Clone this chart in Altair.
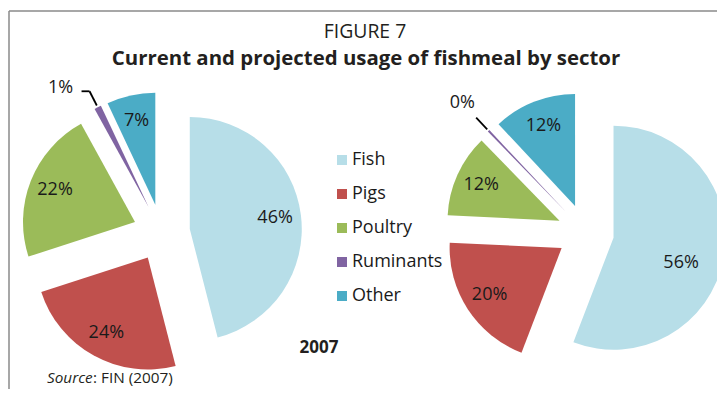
import altair as alt
import pandas as pd

# ---------------- data ----------------
sectors = ["Fish", "Pigs", "Poultry", "Ruminants", "Other"]
pies = ["2007", "Projected"]
share_2007 = [46, 24, 22, 1, 7]
share_projected = [56, 20, 12, 0.3, 12]
colors = ["#B7DEE8", "#C0504D", "#9BBB59", "#8064A2", "#4BACC6"]

TITLE = "FIGURE 7"
SUBTITLE = "Current and projected usage of fishmeal by sector"
YEAR_LABEL = "2007"
SOURCE_ITALIC = "Source"
SOURCE_REST = ": FIN (2007)"

# ---------------- layout (pixels, chart coordinates) ----------------
W, H = 709, 381
CX_LEFT, CX_RIGHT = 153.5, 577.5
CY = 224.5
R = 112
EXPLODE = 28.5
LABEL_R = 86
FONT = "Open Sans"
# per-label nudges (dx, dy) and leader elbows, as in the original layout
LABEL_NUDGE = {"Projected|Fish": (-17, 10), "2007|Ruminants": (-20, 15)}
ELBOW_PIES = ["2007"]
ELBOW_LEN = 8

rows = []
for pie, vals in zip(pies, [share_2007, share_projected]):
    for i, (s, v) in enumerate(zip(sectors, vals)):
        rows.append({"pie": pie, "sector": s, "value": v, "order": i})
df = pd.DataFrame(rows)


def nudge_expr(idx):
    expr = "0"
    for k, v in LABEL_NUDGE.items():
        expr = f"(datum.key == '{k}' ? {v[idx]} : {expr})"
    return expr


base = alt.Chart(df).transform_joinaggregate(
    total="sum(value)", groupby=["pie"]
).transform_window(
    cum="sum(value)", sort=[alt.SortField("order")], groupby=["pie"], frame=[None, 0]
).transform_calculate(
    t1="2*PI*datum.cum/datum.total",
    t0="2*PI*(datum.cum-datum.value)/datum.total",
    share="datum.value/datum.total",
    key="datum.pie + '|' + datum.sector",
).transform_calculate(
    mid="(datum.t0+datum.t1)/2",
    cx=f"datum.pie == '2007' ? {CX_LEFT} : {CX_RIGHT}",
    pct="format(round(datum.share*100), 'd') + '%'",
    ndx=nudge_expr(0),
    ndy=nudge_expr(1),
).transform_calculate(
    px=f"datum.cx + {EXPLODE}*sin(datum.mid)",
    py=f"{CY} - {EXPLODE}*cos(datum.mid)",
).transform_calculate(
    lx=f"datum.px + {LABEL_R}*sin(datum.mid) + datum.ndx",
    ly=f"datum.py - {LABEL_R}*cos(datum.mid) + datum.ndy",
    ax=f"datum.px + {R + 2}*sin(datum.mid)",
    ay=f"datum.py - {R + 2}*cos(datum.mid)",
    bx=f"datum.px + {R + 18}*sin(datum.mid)",
    by=f"datum.py - {R + 18}*cos(datum.mid)",
    ox=f"datum.px + {R + 38}*sin(datum.mid) + datum.ndx",
    oy=f"datum.py - {R + 38}*cos(datum.mid) + datum.ndy",
).transform_calculate(
    ex=f"datum.bx - {ELBOW_LEN}",
)

X = lambda f: alt.X(f, scale=None, axis=None)
Y = lambda f: alt.Y(f, scale=None, axis=None)

arcs = base.mark_arc(radius=R, stroke=None).encode(
    x=X("px:Q"),
    y=Y("py:Q"),
    theta=alt.Theta("t0:Q", scale=None),
    theta2="t1:Q",
    color=alt.Color(
        "sector:N",
        scale=alt.Scale(domain=sectors, range=colors),
        sort=sectors,
        legend=alt.Legend(
            title=None,
            orient="none",
            legendX=325,
            legendY=143,
            symbolType="square",
            symbolSize=100,
            symbolStrokeWidth=0,
            labelFont=FONT,
            labelFontSize=18,
            labelColor="#1a1a1a",
            labelOffset=1,
            rowPadding=16,
        ),
    ),
)

inner = base.transform_filter("datum.share >= 0.03").mark_text(
    font=FONT, fontSize=18, color="#1a1a1a", align="center", baseline="middle"
).encode(x=X("lx:Q"), y=Y("ly:Q"), text="pct:N")

small = base.transform_filter("datum.share < 0.03")
leaders = small.mark_rule(color="black", strokeWidth=1.8).encode(
    x=X("ax:Q"), y=Y("ay:Q"), x2="bx:Q", y2="by:Q"
)
elbows = small.transform_filter(
    alt.FieldOneOfPredicate(field="pie", oneOf=ELBOW_PIES)
).mark_rule(color="black", strokeWidth=1.8).encode(
    x=X("bx:Q"), y=Y("by:Q"), x2="ex:Q"
)
outer = small.mark_text(
    font=FONT, fontSize=18, color="#1a1a1a", align="center", baseline="middle"
).encode(x=X("ox:Q"), y=Y("oy:Q"), text="pct:N")


def label(text, x, y, size, weight="normal", style="normal", align="center"):
    return alt.Chart(pd.DataFrame({"t": [text]})).mark_text(
        font=FONT, fontSize=size, fontWeight=weight, fontStyle=style,
        align=align, baseline="alphabetic", color="#231F20",
    ).encode(text="t:N", x=alt.value(x), y=alt.value(y))


frame_top = alt.Chart(pd.DataFrame({"a": [0]})).mark_rule(
    color="#8a8a8a", strokeWidth=1.5
).encode(x=alt.value(1), x2=alt.value(W), y=alt.value(3))
frame_left = alt.Chart(pd.DataFrame({"a": [0]})).mark_rule(
    color="#8a8a8a", strokeWidth=1.5
).encode(x=alt.value(1), y=alt.value(3), y2=alt.value(H))

chart = alt.layer(
    frame_top,
    frame_left,
    arcs,
    inner,
    leaders,
    elbows,
    outer,
    label(TITLE, 357, 30, 19.4),
    label(SUBTITLE, 358, 57, 20.4, weight="bold"),
    label(YEAR_LABEL, 311, 345, 17, weight="bold"),
    label(SOURCE_ITALIC, 39, 375, 15.3, style="italic", align="left"),
    label(SOURCE_REST, 85, 375, 15.3, align="left"),
).properties(
    width=W,
    height=H,
    autosize=alt.AutoSizeParams(type="none"),
    padding=0,
).configure_view(stroke=None)

chart.save("out.html", embed_options={"renderer": "svg", "actions": False})
